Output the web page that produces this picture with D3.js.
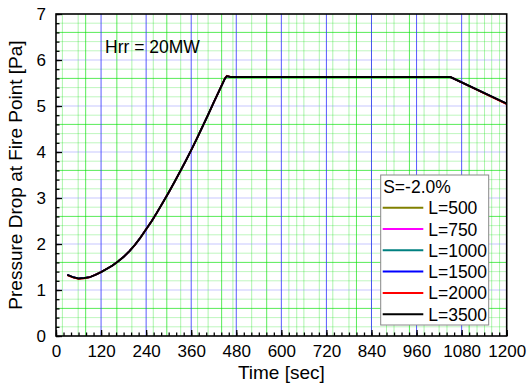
<!DOCTYPE html>
<html><head><meta charset="utf-8">
<script src="https://cdn.jsdelivr.net/npm/d3@7"></script>
<style>body{margin:0;background:#fff}svg{display:block}text{font-family:"Liberation Sans",Arial,sans-serif}</style>
</head><body>
<svg id="c" width="528" height="384"></svg>
<script>
const time = [30,45,60,75,90,105,120,135,150,165,180,195,210,225,240,255,270,285,300,315,330,345,360,375,390,405,420,435,450,455,465,1050,1200];
const base = [1.33,1.28,1.25,1.26,1.28,1.33,1.39,1.46,1.53,1.62,1.72,1.84,1.98,2.14,2.32,2.50,2.70,2.91,3.12,3.34,3.57,3.80,4.04,4.29,4.55,4.81,5.08,5.34,5.60,5.65,5.63,5.63,5.05];
const L500  = base.slice();
const L750  = base.slice();
const L1000 = base.slice();
const L1500 = base.slice();
const L2000 = [1.32,1.27,1.24,1.25,1.28,1.33,1.39,1.46,1.53,1.62,1.72,1.84,1.98,2.14,2.32,2.50,2.70,2.91,3.12,3.34,3.57,3.80,4.04,4.29,4.55,4.81,5.08,5.34,5.61,5.66,5.63,5.63,5.04];
const L3500 = base.slice();
const seriesNames = ["L=500","L=750","L=1000","L=1500","L=2000","L=3500"];
const seriesValues = [L500,L750,L1000,L1500,L2000,L3500];
const seriesColors = ["#808000","#ff00ff","#008080","#0000ff","#ff0000","#000000"];
const xTicks = [0,120,240,360,480,600,720,840,960,1080,1200];
const yTicks = [0,1,2,3,4,5,6,7];
const legendTitle = "S=-2.0%";
const annotation = "Hrr = 20MW";
// decorative background grid (green) positions
const bgGridX = [17,59,79,162,202,259,295,332,377,405,441,471,521,561,620,641,660,701,737,780,800,840,880,900,941,980,1020,1041,1100,1121,1141,1160,1181];
const bgGridXBright = [561,162,79,295,441,800,941,1100];
const bgGridY = d3.range(0.2,7,0.2).map(v=>+v.toFixed(1)).filter(v=>Math.abs(v-Math.round(v))>0.01);

const svg = d3.select("#c");
const m = {l:56,r:21.3,t:14,b:48};
const W = 528, H = 384;
const x = d3.scaleLinear().domain([0,1200]).range([m.l, W-m.r]);
const y = d3.scaleLinear().domain([0,7]).range([H-m.b, m.t]);

const g = svg.append("g");
g.selectAll(".gy").data(bgGridY).join("line")
  .attr("x1",x(0)).attr("x2",x(1200)).attr("y1",d=>y(d)).attr("y2",d=>y(d))
  .attr("stroke","#00e000").attr("stroke-width",1)
  .attr("stroke-opacity",d=>Math.abs((d%1)-0.6)<0.01?0.65:0.25);
g.selectAll(".gx").data(bgGridX).join("line")
  .attr("y1",y(0)).attr("y2",y(7)).attr("x1",d=>x(d)).attr("x2",d=>x(d))
  .attr("stroke","#00e000").attr("stroke-width",1)
  .attr("stroke-opacity",d=>bgGridXBright.includes(d)?0.65:0.32);
g.selectAll(".by").data(yTicks.slice(1,-1)).join("line")
  .attr("x1",x(0)).attr("x2",x(1200)).attr("y1",d=>y(d)).attr("y2",d=>y(d))
  .attr("stroke","#8080ff").attr("stroke-opacity",0.45).attr("stroke-width",1.2);
g.selectAll(".bx").data(xTicks.slice(1,-1)).join("line")
  .attr("y1",y(0)).attr("y2",y(7)).attr("x1",d=>x(d)).attr("x2",d=>x(d))
  .attr("stroke","#3030ff").attr("stroke-opacity",0.8).attr("stroke-width",1);

const line = d3.line().x((d,i)=>x(time[i])).y(d=>y(d));
seriesValues.forEach((vals,i)=>{
  svg.append("path").datum(vals).attr("d",line).attr("fill","none")
    .attr("stroke",seriesColors[i]).attr("stroke-width",i===5?2:1.6).attr("stroke-linejoin","round");
});

const xAxis = d3.axisBottom(x).tickValues(xTicks).tickSize(-6).tickPadding(9).tickFormat(d3.format("d"));
const xMinor = d3.axisBottom(x).tickValues(d3.range(0,1201,20)).tickSize(-3.5).tickFormat("");
const yAxis = d3.axisLeft(y).tickValues(yTicks).tickSize(-6).tickPadding(10).tickFormat(d3.format("d"));
const yMinor = d3.axisLeft(y).tickValues(d3.range(0,7.01,0.2)).tickSize(-3.5).tickFormat("");
function style(sel){
  sel.select(".domain").remove();
  sel.selectAll("line").attr("stroke","#000").attr("stroke-width",1.3);
  sel.selectAll("text").attr("font-size",17).attr("fill","#000").attr("font-family","'Liberation Sans',Arial,sans-serif");
}
svg.append("g").attr("transform",`translate(0,${y(0)})`).call(xMinor).call(style);
svg.append("g").attr("transform",`translate(0,${y(0)})`).call(xAxis).call(style);
svg.append("g").attr("transform",`translate(${x(0)},0)`).call(yMinor).call(style);
svg.append("g").attr("transform",`translate(${x(0)},0)`).call(yAxis).call(style);

svg.append("rect").attr("x",x(0)).attr("y",y(7)).attr("width",x(1200)-x(0)).attr("height",y(0)-y(7))
  .attr("fill","none").attr("stroke","#000").attr("stroke-width",1.6);

svg.append("text").attr("x",(x(0)+x(1200))/2).attr("y",379).attr("text-anchor","middle")
  .attr("font-size",19).text("Time [sec]");
svg.append("text").attr("transform",`translate(22,${(y(0)+y(7))/2}) rotate(-90)`).attr("text-anchor","middle")
  .attr("font-size",19).text("Pressure Drop at Fire Point [Pa]");
svg.append("text").attr("x",105).attr("y",53).attr("font-size",17.5).text(annotation);

const lg = svg.append("g").attr("transform","translate(380.7,175)");
lg.append("rect").attr("width",108).attr("height",150).attr("fill","#fff").attr("stroke","#888").attr("stroke-width",1);
lg.append("text").attr("x",2.5).attr("y",18).attr("font-size",17.5).text(legendTitle);
seriesNames.forEach((n,i)=>{
  const yy = 32.7 + i*21.3;
  lg.append("line").attr("x1",2).attr("x2",42.6).attr("y1",yy).attr("y2",yy)
    .attr("stroke",seriesColors[i]).attr("stroke-width",2);
  lg.append("text").attr("x",47.5).attr("y",yy+6.5).attr("font-size",17.5).text(n);
});
</script>
</body></html>
